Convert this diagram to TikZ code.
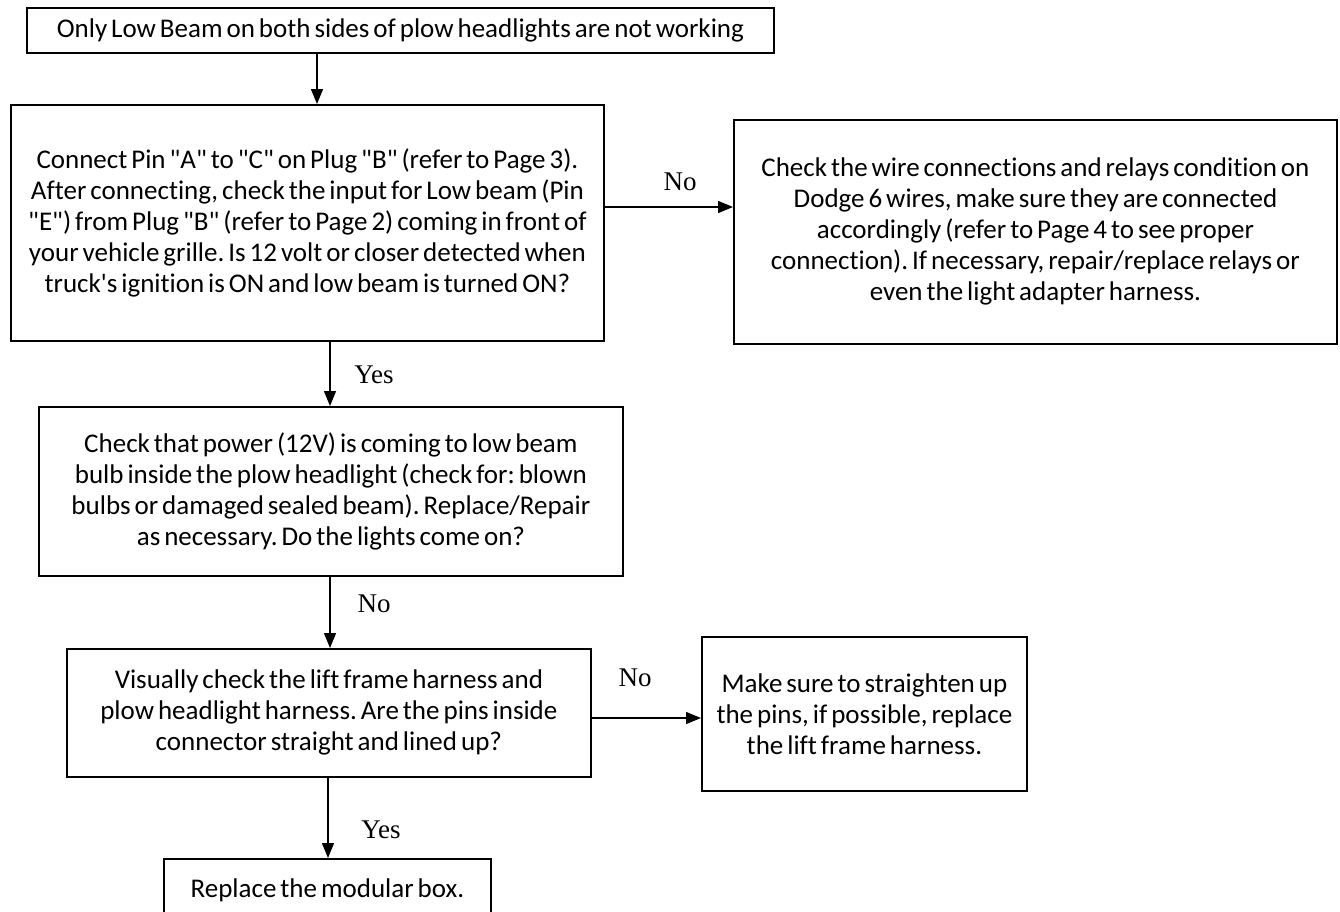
\documentclass[tikz,border=0pt]{standalone}
\usepackage{fontspec}
\newfontfamily\bxfont{Carlito}[WordSpace=0.65,Ligatures={NoCommon,NoRequired,NoContextual}]
\newfontfamily\lblfont{Liberation Serif}
\usetikzlibrary{arrows.meta}
\frenchspacing
\begin{document}
\begin{tikzpicture}[x=1pt,y=-1pt,
  box/.style={draw, line width=1.8pt, align=center, inner sep=0pt, anchor=north west,
    font=\bxfont\fontsize{27}{31}\selectfont\frenchspacing},
  lbl/.style={font=\lblfont\fontsize{27}{30}\selectfont, inner sep=0pt},
  arr/.style={line width=1.4pt, -{Triangle[length=15pt,width=12pt]}}]
\clip (0,0) rectangle (1340,911);
\fill[white] (0,0) rectangle (1340,911);
% boxes
\node[box, minimum width=747pt, minimum height=45pt] (b1) at (26,7)
  {Only Low Beam on both sides of plow headlights are not working};
\node[box, minimum width=593pt, minimum height=236pt] (b2) at (10,104)
  {Connect Pin "A" to "C" on Plug "B" (refer to Page 3).\\
   After connecting, check the input for Low beam (Pin\\
   "E") from Plug "B" (refer to Page 2) coming in front of\\
   your vehicle grille. Is 12 volt or closer detected when\\
   truck\textquotesingle s ignition is ON and low beam is turned ON?};
\node[box, minimum width=603pt, minimum height=224pt] (b3) at (733,119)
  {Check the wire connections and relays condition on\\
   Dodge 6 wires, make sure they are connected\\
   accordingly (refer to Page 4 to see proper\\
   connection). If necessary, repair/replace relays or\\
   even the light adapter harness.};
\node[box, minimum width=584pt, minimum height=169pt] (b4) at (38,406)
  {Check that power (12V) is coming to low beam\\
   bulb inside the plow headlight (check for: blown\\
   bulbs or damaged sealed beam). Replace/Repair\\
   as necessary. Do the lights come on?};
\node[box, minimum width=524pt, minimum height=128pt] (b5) at (66,648)
  {Visually check the lift frame harness and\\
   plow headlight harness. Are the pins inside\\
   connector straight and lined up?};
\node[box, minimum width=325pt, minimum height=154pt] (b6) at (701,636)
  {Make sure to straighten up\\
   the pins, if possible, replace\\
   the lift frame harness.};
\node[box, minimum width=327pt, minimum height=62pt] (b7) at (163,858)
  {Replace the modular box.};
% connector guide coordinates
\coordinate (c1) at (317,0);
\coordinate (c2) at (0,207);
\coordinate (c3) at (330,0);
\coordinate (c4) at (0,718);
\coordinate (c5) at (328,0);
% connectors
\draw[arr] (b1.south -| c1) -- (b2.north -| c1);
\draw[arr] (b2.east |- c2) -- (b3.west |- c2);
\draw[arr] (b2.south -| c3) -- (b4.north -| c3);
\draw[arr] (b4.south -| c3) -- (b5.north -| c3);
\draw[arr] (b5.east |- c4) -- (b6.west |- c4);
\draw[arr] (b5.south -| c5) -- (b7.north -| c5);
% labels
\node[lbl] (l1) at (680,182) {No};
\node[lbl] (l2) at (374,375) {Yes};
\node[lbl] (l3) at (374,604) {No};
\node[lbl] (l4) at (635,678) {No};
\node[lbl] (l5) at (381,830) {Yes};
\end{tikzpicture}
\end{document}
